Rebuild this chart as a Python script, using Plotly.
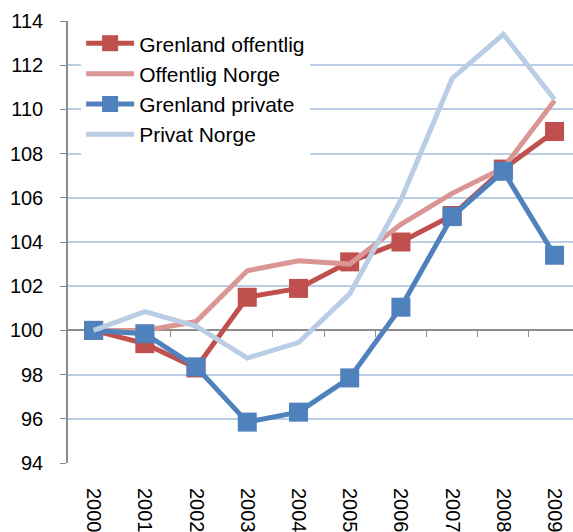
import plotly.graph_objects as go

years = ["2000", "2001", "2002", "2003", "2004", "2005", "2006", "2007", "2008", "2009"]
grenland_offentlig = [100.0, 99.4, 98.3, 101.5, 101.9, 103.1, 104.0, 105.2, 107.3, 109.0]
offentlig_norge = [100.0, 100.0, 100.4, 102.7, 103.15, 103.0, 104.8, 106.2, 107.35, 110.4]
grenland_private = [100.0, 99.85, 98.35, 95.85, 96.3, 97.85, 101.05, 105.15, 107.2, 103.4]
privat_norge = [100.0, 100.85, 100.2, 98.75, 99.45, 101.65, 105.9, 111.4, 113.4, 110.45]

idx = list(range(len(years)))
boundaries = [i + 0.5 for i in range(len(years) - 1)]

C_GO = "#C0504D"
C_ON = "#DA9694"
C_GP = "#4F81BD"
C_PN = "#B9CDE5"
GRID = "#B9CDE5"
AXIS = "#8C8C8C"

fig = go.Figure()
fig.add_trace(go.Scatter(x=idx, y=grenland_offentlig, name="Grenland offentlig",
                         mode="lines+markers", line=dict(color=C_GO, width=5),
                         marker=dict(symbol="square", size=19, color=C_GO)))
fig.add_trace(go.Scatter(x=idx, y=offentlig_norge, name="Offentlig Norge",
                         mode="lines", line=dict(color=C_ON, width=5)))
fig.add_trace(go.Scatter(x=idx, y=grenland_private, name="Grenland private",
                         mode="lines+markers", line=dict(color=C_GP, width=5),
                         marker=dict(symbol="square", size=19, color=C_GP)))
fig.add_trace(go.Scatter(x=idx, y=privat_norge, name="Privat Norge",
                         mode="lines", line=dict(color=C_PN, width=5)))
# carrier for the label axis
fig.add_trace(go.Scatter(x=[0], y=[100], xaxis="x2", yaxis="y", mode="lines",
                         opacity=0, showlegend=False, hoverinfo="skip"))

xr = [-0.5, 9.36]
fig.update_layout(
    width=573, height=532,
    margin=dict(l=68, r=0, t=21, b=69, autoexpand=False),
    paper_bgcolor="white", plot_bgcolor="white",
    font=dict(family="Liberation Sans, Arial, sans-serif", size=20, color="black"),
    showlegend=True,
    legend=dict(x=0.026, y=0.995, xanchor="left", yanchor="top",
                bgcolor="white", font=dict(size=21), itemwidth=48,
                entrywidth=245, tracegroupgap=0),
    xaxis=dict(range=xr, anchor="free", position=(100 - 94) / 20,
               showline=True, linecolor=AXIS, linewidth=1.5,
               tickvals=boundaries, ticks="outside", ticklen=6, tickcolor=AXIS,
               showticklabels=False, showgrid=False, zeroline=False,
               layer="below traces", automargin=False),
    xaxis2=dict(range=xr, overlaying="x", anchor="y", side="bottom",
                tickvals=idx, ticktext=years, tickangle=90,
                showline=False, showgrid=False, zeroline=False, ticks="",
                ticklabelstandoff=24, tickfont=dict(size=20), automargin=False),
    yaxis=dict(range=[94, 114], dtick=2, tick0=94,
               showgrid=True, gridcolor=GRID, gridwidth=1.5,
               showline=True, linecolor=AXIS, linewidth=1.5,
               ticks="outside", ticklen=6, tickcolor=AXIS,
               zeroline=False, ticklabelstandoff=13,
               tickfont=dict(size=20), automargin=False),
)

fig.write_html("out.html", config={"displayModeBar": False},
               post_script="document.body.style.margin='0';")
